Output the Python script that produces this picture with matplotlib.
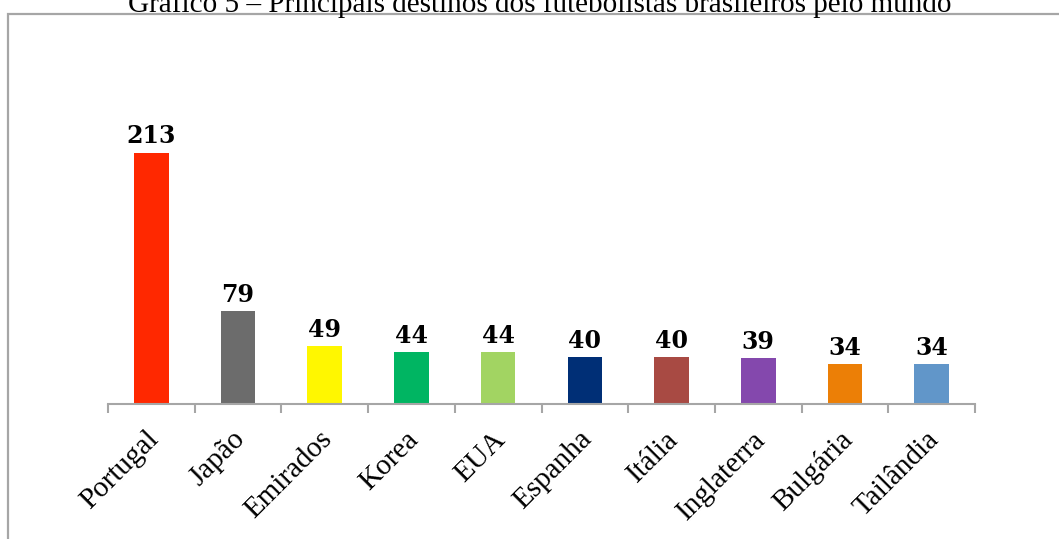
"""Gráfico de barras com os principais destinos dos futebolistas brasileiros."""

import matplotlib
matplotlib.use("Agg")
import matplotlib.pyplot as plt
from matplotlib.patches import Rectangle

# Dados do gráfico
paises = ["Portugal", "Japão", "Emirados", "Korea", "EUA",
          "Espanha", "Itália", "Inglaterra", "Bulgária", "Tailândia"]
jogadores = [213, 79, 49, 44, 44, 40, 40, 39, 34, 34]
cores = ["#ff2800", "#6c6c6c", "#fff700", "#00b562", "#a2d462",
         "#002f76", "#a84a43", "#8448ad", "#ec7f06", "#6196c9"]
titulo = "Gráfico 5 – Principais destinos dos futebolistas brasileiros pelo mundo"


def plot_grafico():
    W, H = 1059, 539
    fig = plt.figure(figsize=(W / 100, H / 100), dpi=100)

    # Moldura cinza em volta do gráfico (cortada à direita e embaixo)
    fig.patches.append(Rectangle((8 / W, -0.05), 1.1, 1 - 14 / H + 0.05,
                                 transform=fig.transFigure, fill=False,
                                 edgecolor="#a6a6a6", linewidth=1.6))

    # Título (parcialmente cortado no topo, como no original)
    fig.text(540 / W, 1 - 12 / H, titulo, ha="center", va="baseline",
             fontsize=21, family="Liberation Serif", color="black")

    # Eixos: base em y=404, de x=108 até x=975
    base = 1 - 404 / H
    ax = fig.add_axes([108 / W, base, (975 - 108) / W, 295 / H])
    x = list(range(len(paises)))
    barras = ax.bar(x, jogadores, width=0.4, color=cores)
    ax.set_xlim(-0.5, len(paises) - 0.5)
    ax.set_ylim(0, 250)

    # Rótulos de dados em cima das barras
    for b, v in zip(barras, jogadores):
        ax.annotate(str(v), (b.get_x() + b.get_width() / 2, v),
                    xytext=(0, 3), textcoords="offset points",
                    ha="center", va="bottom", fontsize=17,
                    fontweight="bold", family="DejaVu Serif")

    for lado in ["top", "right", "left"]:
        ax.spines[lado].set_visible(False)
    ax.spines["bottom"].set_color("#a6a6a6")
    ax.spines["bottom"].set_linewidth(1.5)
    ax.set_yticks([])

    # Marcas entre as categorias
    ax.set_xticks([i - 0.5 for i in range(len(paises) + 1)], minor=True)
    ax.tick_params(axis="x", which="minor", length=6.5, width=1.5,
                   color="#a6a6a6", direction="out")
    ax.set_xticks([i - 0.07 for i in x])
    ax.set_xticklabels(paises, rotation=45, ha="right",
                       rotation_mode="anchor", fontsize=21,
                       family="Liberation Serif")
    ax.tick_params(axis="x", which="major", length=0, pad=16)

    plt.savefig("out.png", dpi=100)


if __name__ == "__main__":
    plot_grafico()
